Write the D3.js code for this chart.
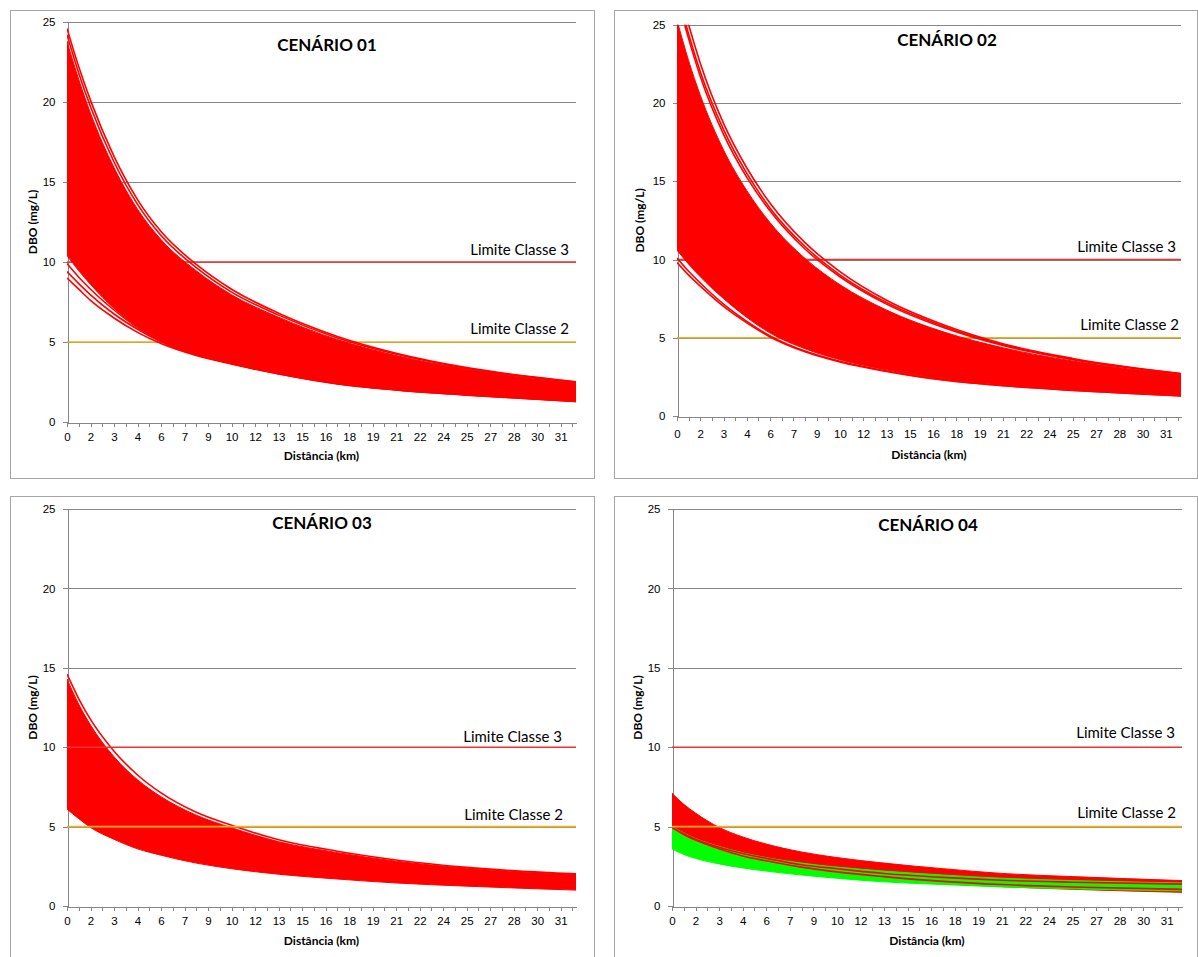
<!DOCTYPE html>
<html>
<head>
<meta charset="utf-8">
<script src="https://cdnjs.cloudflare.com/ajax/libs/d3/7.8.5/d3.min.js"></script>
<style>
    body { margin: 0; background: #fff; }
    svg { font-family: Lato, "Open Sans", sans-serif; }
    .axis path, .axis line { stroke: #868686; shape-rendering: crispEdges; }
    .axis text { fill: #000; font-size: 11.5px; }
    .grid line { stroke: #868686; shape-rendering: crispEdges; }
    .frame { fill: none; stroke: #a6a6a6; shape-rendering: crispEdges; }
    .title { font-weight: bold; font-size: 17px; }
    .axis-title { font-weight: bold; font-size: 12px; }
    .lim-label { font-size: 15px; }
</style>
</head>
<body>
<div id="chart"></div>
<script>

// category index (position on the distance axis) where the curves were read
var sampleIdx = [0, 1, 2, 4, 6, 8, 11, 14, 18, 23, 28, 34, 43.3];

// distance labels shown every 2nd category
var distLabels = ["0", "2", "3", "4", "6", "7", "9", "10", "12", "13", "15", "16",
    "18", "19", "21", "22", "24", "25", "27", "28", "30", "31"];
var yTicks = [0, 5, 10, 15, 20, 25];
var limClasse3 = 10;
var limClasse2 = 5;

// CENARIO 01
var c1Upper = [23.8, 21.4, 19.3, 15.9, 13.3, 11.4, 9.45, 7.95, 6.55, 5.15, 4.15, 3.3, 2.45];
var c1Lower = [10.4, 9.45, 8.6, 7.1, 5.95, 5.1, 4.25, 3.68, 3.05, 2.42, 2.03, 1.71, 1.31];
var c1LineA = [24.6, 22.2, 20.1, 16.6, 13.9, 11.9, 9.85, 8.3, 6.8, 5.35, 4.3, 3.4, 2.52];
var c1LineB = [24.2, 21.8, 19.7, 16.25, 13.6, 11.65, 9.65, 8.12, 6.68, 5.25, 4.23, 3.35, 2.49];
var c1LineC = [9.0, 8.3, 7.6, 6.5, 5.6, 4.9, 4.15, 3.62, 3.0, 2.38, 2.0, 1.68, 1.28];
var c1LineD = [9.4, 8.65, 7.95, 6.75, 5.8, 5.02, 4.2, 3.65, 3.02, 2.4, 2.01, 1.69, 1.29];
var c1LineE = [9.9, 9.05, 8.3, 7.0, 5.9, 5.06, 4.22, 3.66, 3.03, 2.41, 2.02, 1.7, 1.3];

// CENARIO 02
var c2Upper = [25.3, 22.7, 20.5, 17.0, 14.4, 12.35, 10.07, 8.39, 6.77, 5.35, 4.36, 3.51, 2.63];
var c2Lower = [10.6, 9.7, 8.9, 7.5, 6.3, 5.3, 4.3, 3.6, 2.95, 2.35, 1.98, 1.68, 1.32];
var c2LineA = [26.8, 24.1, 21.7, 18.0, 15.25, 13.1, 10.67, 8.9, 7.15, 5.62, 4.5, 3.6, 2.68];
var c2LineB = [27.2, 24.4, 22.0, 18.3, 15.5, 13.28, 10.83, 9.02, 7.25, 5.7, 4.55, 3.63, 2.7];
var c2LineC = [27.8, 25.0, 22.55, 18.7, 15.85, 13.6, 11.08, 9.23, 7.4, 5.8, 4.62, 3.68, 2.72];
var c2LineD = [9.8, 9.0, 8.3, 7.0, 5.95, 5.05, 4.1, 3.45, 2.85, 2.28, 1.93, 1.64, 1.28];
var c2LineE = [10.1, 9.25, 8.5, 7.15, 6.05, 5.12, 4.15, 3.5, 2.88, 2.3, 1.95, 1.65, 1.3];

// CENARIO 03
var c3Upper = [14.3, 12.7, 11.4, 9.4, 7.95, 6.88, 5.72, 4.93, 4.05, 3.36, 2.82, 2.38, 1.98];
var c3Lower = [6.1, 5.5, 4.95, 4.2, 3.6, 3.2, 2.7, 2.35, 2.0, 1.7, 1.45, 1.25, 1.0];
var c3LineA = [14.6, 13.05, 11.75, 9.75, 8.25, 7.12, 5.9, 5.08, 4.17, 3.45, 2.9, 2.43, 2.02];

// CENARIO 04 (red and green runs)
var c4RedUpper = [7.1, 6.4, 5.85, 4.95, 4.35, 3.9, 3.4, 3.05, 2.7, 2.35, 2.05, 1.85, 1.6];
var c4RedLower = [3.8, 3.45, 3.2, 2.85, 2.55, 2.35, 2.1, 1.88, 1.62, 1.4, 1.22, 1.05, 0.86];
var c4GreenUpper = [5.0, 4.6, 4.25, 3.75, 3.35, 3.05, 2.7, 2.45, 2.2, 1.95, 1.75, 1.6, 1.45];
var c4GreenLower = [3.6, 3.25, 3.0, 2.65, 2.4, 2.2, 1.95, 1.75, 1.52, 1.35, 1.2, 1.08, 0.95];
var c4RedLineA = [4.95, 4.55, 4.2, 3.7, 3.3, 3.0, 2.6, 2.35, 2.05, 1.8, 1.62, 1.5, 1.38];
var c4RedLineB = [4.95, 4.5, 4.15, 3.6, 3.15, 2.85, 2.45, 2.15, 1.85, 1.55, 1.35, 1.2, 1.05];


/*
 * ScenarioChart - one "CENÁRIO" panel
 */
ScenarioChart = function(_svg, _config){
    this.svg = _svg;
    this.config = _config;
    this.initVis();
}

ScenarioChart.prototype.initVis = function(){
    var vis = this;
    var c = vis.config;

    // outer border
    vis.svg.append("rect")
        .attr("class", "frame")
        .attr("x", c.frame[0] + 0.5).attr("y", c.frame[1] + 0.5)
        .attr("width", c.frame[2]).attr("height", c.frame[3]);

    vis.x = d3.scaleLinear()
        .domain([0, 43.3])
        .range([c.left, c.right]);

    vis.y = d3.scaleLinear()
        .domain([0, 25])
        .range([c.bottom, c.top]);

    // gridlines
    vis.svg.append("g")
        .attr("class", "grid")
        .selectAll("line")
        .data(yTicks.filter(function(d){ return d > 0; }))
        .enter().append("line")
        .attr("x1", c.left).attr("x2", c.right)
        .attr("y1", function(d){ return Math.round(vis.y(d)) + 0.5; })
        .attr("y2", function(d){ return Math.round(vis.y(d)) + 0.5; });

    // axes (drawn below the series, like the spreadsheet does)
    vis.xAxis = d3.axisBottom(vis.x)
        .tickValues(d3.range(0, 44))
        .tickSize(4)
        .tickSizeOuter(0)
        .tickPadding(c.xPad)
        .tickFormat(function(d){ return d % 2 === 0 ? distLabels[d / 2] : ""; });

    vis.yAxis = d3.axisLeft(vis.y)
        .tickValues(yTicks)
        .tickSize(5)
        .tickSizeOuter(0)
        .tickPadding(7);

    vis.svg.append("g")
        .attr("class", "x-axis axis")
        .attr("transform", "translate(0," + (Math.round(c.bottom) + 0.5) + ")")
        .call(vis.xAxis);

    vis.svg.append("g")
        .attr("class", "y-axis axis")
        .attr("transform", "translate(" + (Math.round(c.left) + 0.5) + ",0)")
        .call(vis.yAxis);

    var limits = [
        { v: limClasse3, color: "#ee3135", label: "Limite Classe 3", dx: c.lim3dx, dy: c.lim3dy },
        { v: limClasse2, color: "#efaf1f", label: "Limite Classe 2", dx: c.lim2dx, dy: c.lim2dy }
    ];

    var limG = vis.svg.append("g");

    var clipId = "clip" + c.id;
    vis.svg.append("clipPath")
        .attr("id", clipId)
        .append("rect")
        .attr("x", c.left).attr("y", c.top)
        .attr("width", c.right - c.left).attr("height", c.bottom - c.top);

    vis.plot = vis.svg.append("g").attr("clip-path", "url(#" + clipId + ")");

    if (c.limitsOnTop) limG.raise();

    limits.forEach(function(l){
        var yy = vis.y(l.v);
        limG.append("line")
            .attr("x1", c.left).attr("x2", c.right)
            .attr("y1", yy).attr("y2", yy)
            .attr("stroke", l.color)
            .attr("stroke-width", 1.6);
        vis.svg.append("text")
            .attr("class", "lim-label")
            .attr("x", c.right - l.dx)
            .attr("y", yy - l.dy)
            .attr("dy", "0.35em")
            .attr("text-anchor", "end")
            .text(l.label);
    });

    vis.area = d3.area()
        .x(function(d){ return vis.x(d.i); })
        .y0(function(d){ return vis.y(d.lo); })
        .y1(function(d){ return vis.y(d.hi); })
        .curve(d3.curveMonotoneX);

    vis.line = d3.line()
        .x(function(d){ return vis.x(d.i); })
        .y(function(d){ return vis.y(d.v); })
        .curve(d3.curveMonotoneX);

    c.bands.forEach(function(b){
        var rows = sampleIdx.map(function(idx, k){
            return { i: idx, lo: b.lower[k], hi: b.upper[k] };
        });
        vis.plot.append("path")
            .attr("d", vis.area(rows))
            .attr("fill", b.color)
            .attr("stroke", b.color)
            .attr("stroke-width", 1);

        (b.lines || []).forEach(function(ln){
            var pts = sampleIdx.map(function(idx, k){ return { i: idx, v: ln[k] }; });
            vis.plot.append("path")
                .attr("d", vis.line(pts))
                .attr("fill", "none")
                .attr("stroke", b.lineColor || b.color)
                .attr("stroke-width", 1.6);
        });
    });

    // titles
    vis.svg.append("text")
        .attr("class", "title")
        .attr("x", c.titleX).attr("y", c.titleY)
        .attr("dy", "0.35em")
        .attr("text-anchor", "middle")
        .text(c.title);

    vis.svg.append("text")
        .attr("class", "axis-title")
        .attr("x", (c.left + c.right) / 2).attr("y", c.bottom + c.xTitleDy)
        .attr("dy", "0.35em")
        .attr("text-anchor", "middle")
        .text("Distância (km)");

    vis.svg.append("text")
        .attr("class", "axis-title")
        .attr("transform", "translate(" + c.yTitleX + "," + (c.top + c.bottom) / 2 + ") rotate(-90)")
        .attr("dy", "0.35em")
        .attr("text-anchor", "middle")
        .text("DBO (mg/L)");
}


var svg = d3.select("#chart").append("svg")
    .attr("width", 1198)
    .attr("height", 957);

var charts = [
    new ScenarioChart(svg, {
        id: 1, title: "CENÁRIO 01", frame: [10, 10, 584, 468],
        left: 67, right: 576, top: 22, bottom: 422,
        titleX: 327, titleY: 45, yTitleX: 33, xPad: 6, xTitleDy: 34,
        lim3dx: 7, lim3dy: 12, lim2dx: 7, lim2dy: 13, limitsOnTop: false,
        bands: [{ upper: c1Upper, lower: c1Lower, color: "#ff0000",
            lines: [c1LineA, c1LineB, c1LineC, c1LineD, c1LineE] }]
    }),
    new ScenarioChart(svg, {
        id: 2, title: "CENÁRIO 02", frame: [614, 10, 583, 468],
        left: 677, right: 1181, top: 24.8, bottom: 416,
        titleX: 947, titleY: 40, yTitleX: 640, xPad: 9, xTitleDy: 39,
        lim3dx: 5, lim3dy: 13, lim2dx: 2, lim2dy: 13, limitsOnTop: false,
        bands: [{ upper: c2Upper, lower: c2Lower, color: "#ff0000",
            lines: [c2LineA, c2LineB, c2LineC, c2LineD, c2LineE] }]
    }),
    new ScenarioChart(svg, {
        id: 3, title: "CENÁRIO 03", frame: [10, 496, 584, 470],
        left: 67, right: 576, top: 509, bottom: 906,
        titleX: 322, titleY: 523, yTitleX: 33, xPad: 6, xTitleDy: 35,
        lim3dx: 14, lim3dy: 10, lim2dx: 13, lim2dy: 12, limitsOnTop: true,
        bands: [{ upper: c3Upper, lower: c3Lower, color: "#ff0000", lines: [c3LineA] }]
    }),
    new ScenarioChart(svg, {
        id: 4, title: "CENÁRIO 04", frame: [614, 496, 583, 470],
        left: 672, right: 1182, top: 509, bottom: 906,
        titleX: 928, titleY: 525, yTitleX: 638, xPad: 6, xTitleDy: 35,
        lim3dx: 7, lim3dy: 14, lim2dx: 6, lim2dy: 14, limitsOnTop: true,
        bands: [
            { upper: c4RedUpper, lower: c4RedLower, color: "#ff0000" },
            { upper: c4GreenUpper, lower: c4GreenLower, color: "#00ff00",
                lines: [c4RedLineA, c4RedLineB], lineColor: "#ff0000" }
        ]
    })
];

</script>
</body>
</html>
